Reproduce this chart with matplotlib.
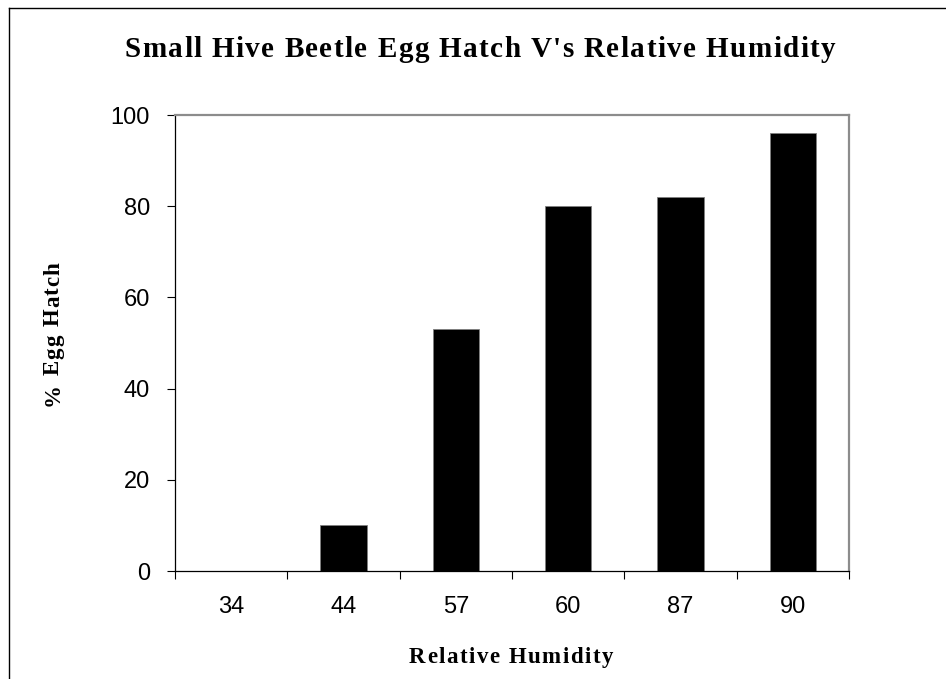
import matplotlib.pyplot as plt
from matplotlib.lines import Line2D
from matplotlib import font_manager
from matplotlib.ft2font import FT2Font

humidity = ['34', '44', '57', '60', '87', '90']
egg_hatch = [0, 10, 53, 80, 82, 96]
y_ticks = [0, 20, 40, 60, 80, 100]

serif = ['Liberation Serif', 'DejaVu Serif']
sans = ['Liberation Sans', 'DejaVu Sans']
W, H = 946, 679


def spaced_text(fig, s, x, y, size, gap, rotation=0):
    # old Word-chart look: bold serif with extra letter spacing, x/y in pixels (baseline)
    prop = font_manager.FontProperties(family=serif, weight='bold')
    font = FT2Font(font_manager.findfont(prop))
    font.set_size(size, 100)
    adv = [font.load_char(ord(c)).linearHoriAdvance / 65536 for c in s]
    total = sum(adv) + gap * (len(s) - 1)
    pos = -total / 2
    for c, a in zip(s, adv):
        if rotation:
            px, py = x, y - pos
        else:
            px, py = x + pos, y
        fig.text(px / W, 1 - py / H, c, fontfamily=serif, fontweight='bold', fontsize=size,
                 ha='left', va='baseline', rotation=rotation, rotation_mode='anchor')
        pos += a + gap


fig = plt.figure(figsize=(W / 100, H / 100), dpi=100)
ax = fig.add_axes([175 / W, 1 - 571 / H, (849 - 175) / W, (571 - 115) / H])

x = list(range(len(humidity)))
ax.bar(x, egg_hatch, width=0.41, color='black', edgecolor='#808080', linewidth=0.6)

ax.set_xlim(-0.5, len(humidity) - 0.5)
ax.set_ylim(0, 100)

# category boundaries get the tick marks, centres get the labels
ax.set_xticks([i - 0.5 for i in range(len(humidity) + 1)])
ax.set_xticklabels([])
ax.set_xticks(x, minor=True)
ax.set_xticklabels(humidity, minor=True, fontfamily=sans, fontsize=17)
ax.tick_params(axis='x', which='major', direction='out', length=6, width=0.8, color='black')
ax.tick_params(axis='x', which='minor', length=0, pad=18)

ax.set_yticks(y_ticks)
ax.set_yticklabels([str(v) for v in y_ticks], fontfamily=sans, fontsize=17)
ax.tick_params(axis='y', direction='out', length=6, width=0.8, pad=12)

for side in ['left', 'bottom']:
    ax.spines[side].set_color('black')
    ax.spines[side].set_linewidth(0.9)
for side in ['top', 'right']:
    ax.spines[side].set_color('#8c8c8c')
    ax.spines[side].set_linewidth(1.6)

spaced_text(fig, "Small Hive Beetle Egg Hatch V's Relative Humidity", 480, 57, 21, 1.4)
spaced_text(fig, 'Relative Humidity', 511, 663, 16.5, 1.5)
spaced_text(fig, '% Egg Hatch', 59, 334, 16.5, 1.2, rotation=90)

# outer frame (only left and top edges are inside the picture)
fig.add_artist(Line2D([8.5 / W, 8.5 / W], [0, 1 - 7.5 / H], transform=fig.transFigure,
                      color='black', linewidth=1))
fig.add_artist(Line2D([8.5 / W, 1], [1 - 7.5 / H, 1 - 7.5 / H], transform=fig.transFigure,
                      color='black', linewidth=1))

fig.savefig('out.png', dpi=100)
